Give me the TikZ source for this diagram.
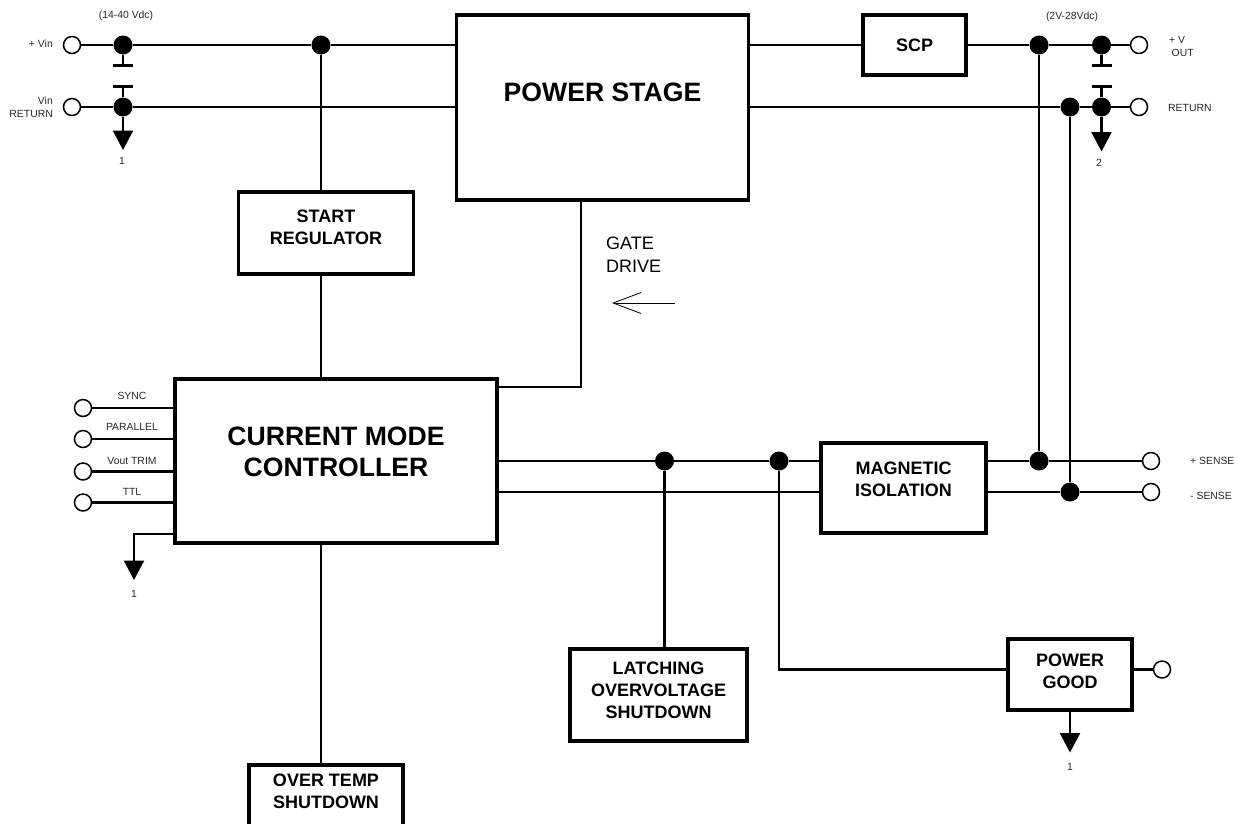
\documentclass[tikz,border=0pt]{standalone}
\usepackage{fontspec}
\setmainfont{Liberation Sans}
\usetikzlibrary{arrows.meta}
\tikzset{
  blockbox/.style={draw,line width=3.8pt,inner sep=0pt,align=center,font=\fontsize{18}{22}\selectfont\bfseries},
  bigbox/.style={blockbox,font=\fontsize{26.6}{31}\selectfont\bfseries},
  wire/.style={line width=2.5pt},
  dotnode/.style={circle,fill=black,inner sep=0pt,minimum size=19pt},
  termnode/.style={circle,draw,line width=1.5pt,fill=white,inner sep=0pt,minimum size=17pt},
  smalltext/.style={inner sep=0pt,font=\fontsize{10.4}{13}\selectfont,text=black!85},
  gndwire/.style={wire,-{Triangle[length=19.5pt,width=20pt]}},
}
\begin{document}
\begin{tikzpicture}[x=1pt,y=-1pt]
\useasboundingbox (0,0) rectangle (1238,823);

% blocks
\node[bigbox,minimum width=292pt,minimum height=185pt] (powerstage) at (602.5,107.5) {POWER STAGE\\};
\node[blockbox,minimum width=103pt,minimum height=60pt] (scp) at (914.5,45) {SCP};
\node[blockbox,minimum width=175pt,minimum height=82pt] (startreg) at (326,233) {START\\REGULATOR\\[-10pt]};
\node[bigbox,minimum width=322pt,minimum height=164pt] (controller) at (336,461) {CURRENT MODE\\CONTROLLER\\[-12pt]};
\node[blockbox,minimum width=165pt,minimum height=90pt] (magiso) at (903.5,488) {MAGNETIC\\ISOLATION\\[-5pt]};
\node[blockbox,minimum width=177pt,minimum height=92pt] (latching) at (658.5,695) {LATCHING\\OVERVOLTAGE\\SHUTDOWN\\[-12pt]};
\node[blockbox,minimum width=124.5pt,minimum height=71pt] (powergood) at (1070,674.5) {POWER\\GOOD\\[-15pt]};
\node[blockbox,minimum width=154pt,minimum height=61pt] (overtemp) at (326,795.5) {OVER TEMP\\SHUTDOWN\\[-14pt]};

% input side
\node[termnode] (vinplus) at (72,45) {};
\node[termnode] (vinret) at (72,107) {};
\node[dotnode] (jvina) at (123,45) {};
\node[dotnode] (jvinb) at (123,107) {};
\node[dotnode] (jstart) at (321,45) {};
\coordinate (capina) at (123,65.5);
\coordinate (capinb) at (123,86.5);
\coordinate (gndin) at (123,150);
\draw[wire] (vinplus) -- (jvina) -- (jstart) -- (jstart-|powerstage.west);
\draw[wire] (vinret) -- (jvinb) -- (jvinb-|powerstage.west);
\draw[wire] (jvina) -- (capina);
\draw[wire] (jvinb) -- (capinb);
\draw[wire] ([xshift=-10pt]capina) -- ([xshift=10pt]capina);
\draw[wire] ([xshift=-10pt]capinb) -- ([xshift=10pt]capinb);
\draw[gndwire] (jvinb) -- (gndin);
\draw[wire] (jstart) -- (jstart|-startreg.north);
\draw[wire] (jstart|-startreg.south) -- (jstart|-controller.north);
\draw[wire] (jstart|-controller.south) -- (jstart|-overtemp.north);

% output side
\node[termnode] (voutplus) at (1139,45) {};
\node[termnode] (voutret) at (1139,107) {};
\node[dotnode] (jouta) at (1039,45) {};
\node[dotnode] (joutb) at (1101.5,45) {};
\node[dotnode] (joutc) at (1070,107) {};
\node[dotnode] (joutd) at (1101.5,107) {};
\coordinate (capouta) at (1101.5,65.5);
\coordinate (capoutb) at (1101.5,86.5);
\coordinate (gndout) at (1101.5,151.5);
\draw[wire] (powerstage.east|-scp) -- (scp);
\draw[wire] (scp) -- (jouta) -- (joutb) -- (voutplus);
\draw[wire] (joutc-|powerstage.east) -- (joutc) -- (joutd) -- (voutret);
\draw[wire] (joutb) -- (capouta);
\draw[wire] (joutd) -- (capoutb);
\draw[wire] ([xshift=-10pt]capouta) -- ([xshift=10pt]capouta);
\draw[wire] ([xshift=-10pt]capoutb) -- ([xshift=10pt]capoutb);
\draw[gndwire] (joutd) -- (gndout);

% sense lines
\node[termnode] (senseplus) at (1151,461) {};
\node[termnode] (senseminus) at (1151,492) {};
\node[dotnode] (jlatch) at (664.5,461) {};
\node[dotnode] (jgood) at (779,461) {};
\node[dotnode] (jsensea) at (1039,461) {};
\node[dotnode] (jsenseb) at (1070,492) {};
\node[termnode] (pingood) at (1162,669.5) {};
\draw[wire] (jlatch-|controller.east) -- (jlatch) -- (jgood) -- (jgood-|magiso.west);
\draw[wire] (jsenseb-|controller.east) -- (jsenseb-|magiso.west);
\draw[wire] (jsensea-|magiso.east) -- (jsensea) -- (senseplus);
\draw[wire] (jsenseb-|magiso.east) -- (jsenseb) -- (senseminus);
\draw[wire] (jouta) -- (jsensea);
\draw[wire] (joutc) -- (jsenseb);
\draw[wire] (jlatch) -- (jlatch|-latching.north);
\draw[wire] (jgood) |- (pingood-|powergood.west);

% gate drive
\coordinate (gatecorner) at (581,387);
\coordinate (gatetail) at (675,303);
\coordinate (gatetip) at (612,303);
\draw[wire] (gatecorner|-powerstage.south) -- (gatecorner) -- (gatecorner-|controller.east);
\draw[line width=0.8pt,-{Straight Barb[length=28pt,width=21pt]}] (gatetail) -- (gatetip);

% controller pins
\node[termnode] (pinsync) at (83,408) {};
\node[termnode] (pinpar) at (83,439) {};
\node[termnode] (pintrim) at (83,471.5) {};
\node[termnode] (pinttl) at (83,502.5) {};
\draw[wire] (pinsync) -- (pinsync-|controller.west);
\draw[wire] (pinpar) -- (pinpar-|controller.west);
\draw[wire] (pintrim) -- (pintrim-|controller.west);
\draw[wire] (pinttl) -- (pinttl-|controller.west);
\coordinate (gndctrl) at (134,534);
\coordinate (gndctrltip) at (134,580);
\draw[gndwire] (gndctrl-|controller.west) -- (gndctrl) -- (gndctrltip);

% power good pins
\coordinate (gndgood) at (1070,752.5);
\draw[wire] (pingood-|powergood.east) -- (pingood);
\draw[gndwire] (powergood.south-|gndgood) -- (gndgood);

% labels
\node[smalltext,anchor=east] (lvinplus) at (53,44) {+ Vin};
\node[smalltext,anchor=east,align=right] (lvinret) at (53,107) {Vin\\RETURN};
\node[smalltext] (lvinrange) at (126,16) {(14-40 Vdc)};
\node[smalltext] (lgndin) at (122,161) {1};
\node[smalltext] (lvoutrange) at (1072,17) {(2V-28Vdc)};
\node[smalltext,anchor=west] (lvplus) at (1169,40) {+ V};
\node[smalltext,anchor=west] (lvout) at (1171.5,53) {OUT};
\node[smalltext,anchor=west] (lvret) at (1168,108) {RETURN};
\node[smalltext] (lgndout) at (1099,163) {2};
\node[smalltext,anchor=west] (lsplus) at (1190,461) {+ SENSE};
\node[smalltext,anchor=west] (lsminus) at (1190,496) {- SENSE};
\node[smalltext] (lsync) at (132,396) {SYNC};
\node[smalltext] (lpar) at (132,427) {PARALLEL};
\node[smalltext] (ltrim) at (132,461) {Vout TRIM};
\node[smalltext] (lttl) at (132,492) {TTL};
\node[smalltext] (lgndctrl) at (134,594) {1};
\node[smalltext] (lgndgood) at (1070,767) {1};
\node[inner sep=0pt,anchor=west,align=left,font=\fontsize{18}{23}\selectfont] (lgate) at (606,255) {GATE\\DRIVE};
\end{tikzpicture}
\end{document}
